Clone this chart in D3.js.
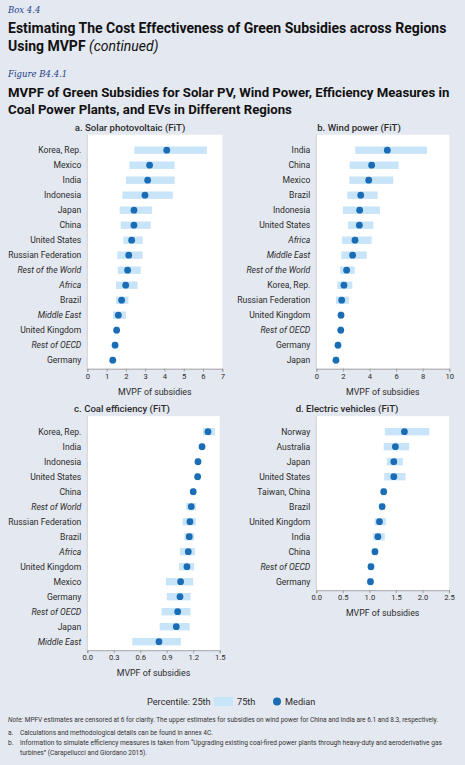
<!DOCTYPE html>
<html>
<head>
<meta charset="utf-8">
<script src="https://cdn.jsdelivr.net/npm/d3@7"></script>
<style>
  body { margin: 0; background: #e4e8f0; }
  svg { display: block; font-family: Roboto, "Noto Sans", sans-serif; }
</style>
</head>
<body>
<svg id="chart" width="465" height="765"></svg>
<script>
// panel a: solar PV
var solarCats = ["Korea, Rep.", "Mexico", "India", "Indonesia", "Japan", "China", "United States",
  "Russian Federation", "Rest of the World", "Africa", "Brazil", "Middle East", "United Kingdom",
  "Rest of OECD", "Germany"];
var solarP25 = [2.44, 2.18, 2.0, 1.82, 1.68, 1.73, 1.87, 1.56, 1.58, 1.49, 1.49, 1.33, 1.45, 1.38, 1.26];
var solarP75 = [6.2, 4.53, 4.53, 4.43, 3.36, 3.29, 2.87, 2.87, 2.77, 2.61, 2.13, 2.0, 1.6, 1.5, 1.38];
var solarMed = [4.12, 3.23, 3.13, 2.99, 2.42, 2.42, 2.30, 2.15, 2.09, 1.99, 1.78, 1.61, 1.52, 1.44, 1.32];

// panel b: wind power
var windCats = ["India", "China", "Mexico", "Brazil", "Indonesia", "United States", "Africa",
  "Middle East", "Rest of the World", "Korea, Rep.", "Russian Federation", "United Kingdom",
  "Rest of OECD", "Germany", "Japan"];
var windP25 = [2.93, 2.51, 2.48, 2.33, 2.0, 2.38, 1.93, 1.88, 1.78, 1.58, 1.48, 1.7, 1.7, 1.5, 1.35];
var windP75 = [8.32, 6.19, 5.79, 4.61, 4.79, 4.29, 4.16, 3.79, 2.89, 2.71, 2.46, 2.0, 2.0, 1.78, 1.6];
var windMed = [5.34, 4.16, 3.94, 3.34, 3.26, 3.24, 2.91, 2.73, 2.28, 2.08, 1.91, 1.86, 1.84, 1.63, 1.48];

// panel c: coal efficiency
var coalCats = ["Korea, Rep.", "India", "Indonesia", "United States", "China", "Rest of World",
  "Russian Federation", "Brazil", "Africa", "United Kingdom", "Mexico", "Germany", "Rest of OECD",
  "Japan", "Middle East"];
var coalP25 = [1.31, 1.28, 1.23, 1.23, 1.18, 1.12, 1.08, 1.10, 1.05, 1.04, 0.89, 0.90, 0.84, 0.82, 0.51];
var coalP75 = [1.445, 1.32, 1.27, 1.27, 1.22, 1.23, 1.23, 1.21, 1.22, 1.21, 1.20, 1.17, 1.17, 1.16, 1.06];
var coalMed = [1.367, 1.30, 1.254, 1.25, 1.20, 1.178, 1.163, 1.155, 1.144, 1.129, 1.057, 1.05, 1.024, 1.008, 0.812];

// panel d: electric vehicles
var evCats = ["Norway", "Australia", "Japan", "United States", "Taiwan, China", "Brazil",
  "United Kingdom", "India", "China", "Rest of OECD", "Germany"];
var evP25 = [1.29, 1.27, 1.33, 1.28, 1.22, 1.19, 1.10, 1.07, 1.06, 0.98, 0.97];
var evP75 = [2.13, 1.75, 1.63, 1.68, 1.32, 1.29, 1.31, 1.29, 1.15, 1.08, 1.07];
var evMed = [1.66, 1.49, 1.46, 1.46, 1.27, 1.24, 1.19, 1.16, 1.105, 1.03, 1.02];

var italicCats = ["Rest of the World", "Rest of World", "Africa", "Middle East", "Rest of OECD"];

var barColor = "#c8e4f8", dotColor = "#1a6db4", textColor = "#2b2b2b";

var svg = d3.select("#chart");

// header
svg.append("text").attr("x", 8).attr("y", 13)
  .style("font-family", "'DejaVu Serif', serif").style("font-style", "italic")
  .style("font-size", "8.5px").style("fill", "#1f3f8a").text("Box 4.4");
var t1 = svg.append("text").attr("x", 8).attr("y", 33)
  .style("font-size", "14px").style("font-weight", "bold").style("fill", "#111");
t1.append("tspan").text("Estimating The Cost Effectiveness of Green Subsidies across Regions");
var t2 = svg.append("text").attr("x", 8).attr("y", 51)
  .style("font-size", "14px").style("fill", "#111");
t2.append("tspan").style("font-weight", "bold").text("Using MVPF ");
t2.append("tspan").style("font-style", "italic").text("(continued)");

svg.append("text").attr("x", 8).attr("y", 77)
  .style("font-family", "'DejaVu Serif', serif").style("font-style", "italic")
  .style("font-size", "8.5px").style("fill", "#1f3f8a").text("Figure B4.4.1");
svg.append("text").attr("x", 8).attr("y", 97)
  .style("font-size", "13.2px").style("font-weight", "bold").style("fill", "#111")
  .text("MVPF of Green Subsidies for Solar PV, Wind Power, Efficiency Measures in");
svg.append("text").attr("x", 8).attr("y", 114)
  .style("font-size", "13.2px").style("font-weight", "bold").style("fill", "#111")
  .text("Coal Power Plants, and EVs in Different Regions");

function panel(o) {
  var x = d3.scaleLinear().domain(o.domain).range([o.left, o.right]);
  var y = d3.scaleBand().domain(o.cats).range([o.top, o.top + o.cats.length * 15]).paddingInner(0);
  var bottom = o.top + o.cats.length * 15 + (o.extra || 0);
  var g = svg.append("g");

  g.append("text").attr("x", o.titleX).attr("y", o.top - 12)
    .attr("text-anchor", "middle").style("font-size", "9.6px").style("font-weight", "500")
    .style("fill", textColor).text(o.title);

  g.append("rect").attr("x", o.left).attr("y", o.top - 8)
    .attr("width", o.right - o.left).attr("height", bottom - o.top + 8)
    .attr("fill", "#fff");

  var rows = o.cats.map(function(c, i) {
    return { cat: c, p25: o.p25[i], p75: o.p75[i], med: o.med[i] };
  });

  g.selectAll("rect.bar").data(rows).enter().append("rect")
    .attr("class", "bar")
    .attr("x", function(d) { return x(d.p25); })
    .attr("y", function(d) { return y(d.cat) + y.bandwidth() / 2 - 3.7; })
    .attr("width", function(d) { return x(d.p75) - x(d.p25); })
    .attr("height", 7.4)
    .attr("fill", barColor);

  g.selectAll("circle").data(rows).enter().append("circle")
    .attr("cx", function(d) { return x(d.med); })
    .attr("cy", function(d) { return y(d.cat) + y.bandwidth() / 2; })
    .attr("r", 3.4)
    .attr("fill", dotColor);

  g.selectAll("text.cat").data(rows).enter().append("text")
    .attr("class", "cat")
    .attr("x", o.left - 6)
    .attr("y", function(d) { return y(d.cat) + y.bandwidth() / 2 + 3; })
    .attr("text-anchor", "end")
    .style("font-size", "8.6px")
    .style("font-style", function(d) { return italicCats.indexOf(d.cat) >= 0 ? "italic" : "normal"; })
    .style("fill", textColor)
    .text(function(d) { return d.cat; });

  g.append("line").attr("x1", o.left).attr("x2", o.left)
    .attr("y1", o.top - 8).attr("y2", bottom)
    .attr("stroke", "#bbb").attr("stroke-width", 0.6);

  var axis = d3.axisBottom(x).tickValues(o.ticks).tickSize(3)
    .tickFormat(o.fmt);
  var ax = g.append("g").attr("transform", "translate(0," + bottom + ")").call(axis);
  ax.select(".domain").attr("stroke", "#888").attr("stroke-width", 0.7);
  ax.selectAll(".tick line").attr("stroke", "#888").attr("stroke-width", 0.7);
  ax.selectAll(".tick text").style("font-size", "7.6px").style("fill", textColor)
    .style("font-family", "Roboto, sans-serif").attr("dy", "0.9em").attr("y", 3);

  g.append("text").attr("x", (o.left + o.right) / 2).attr("y", bottom + 26)
    .attr("text-anchor", "middle").style("font-size", "8.8px").style("fill", textColor)
    .text("MVPF of subsidies");
}

panel({ title: "a.  Solar photovoltaic (FiT)", titleX: 130, cats: solarCats, p25: solarP25, p75: solarP75,
  med: solarMed, domain: [0, 7], ticks: d3.range(0, 8, 1), fmt: d3.format("d"),
  left: 87.3, right: 222.3, top: 142.7, extra: 1 });
panel({ title: "b.  Wind power (FiT)", titleX: 359, cats: windCats, p25: windP25, p75: windP75,
  med: windMed, domain: [0, 10], ticks: d3.range(0, 11, 2), fmt: d3.format("d"),
  left: 316.3, right: 449.3, top: 142.7, extra: 1 });
panel({ title: "c.  Coal efficiency (FiT)", titleX: 122, cats: coalCats, p25: coalP25, p75: coalP75,
  med: coalMed, domain: [0, 1.5], ticks: [0, 0.3, 0.6, 0.9, 1.2, 1.5], fmt: d3.format(".1f"),
  left: 87.3, right: 219.7, top: 424.2, extra: 1 });
panel({ title: "d.  Electric vehicles (FiT)", titleX: 347, cats: evCats, p25: evP25, p75: evP75,
  med: evMed, domain: [0, 2.5], ticks: [0, 0.5, 1, 1.5, 2, 2.5], fmt: d3.format(".1f"),
  left: 316.3, right: 449, top: 424.2, extra: 1 });

// legend
var lg = svg.append("g").style("font-size", "9.2px").style("fill", textColor);
lg.append("text").attr("x", 147).attr("y", 705).text("Percentile:  25th");
lg.append("rect").attr("x", 214).attr("y", 697).attr("width", 19).attr("height", 9).attr("fill", barColor);
lg.append("text").attr("x", 237).attr("y", 705).text("75th");
lg.append("circle").attr("cx", 277).attr("cy", 701.5).attr("r", 4).attr("fill", dotColor);
lg.append("text").attr("x", 285).attr("y", 705).text("Median");

// notes
var nt = svg.append("g").style("font-size", "6.6px").style("fill", "#333");
var n1 = nt.append("text").attr("x", 8).attr("y", 722).attr("textLength", 430).attr("lengthAdjust", "spacingAndGlyphs");
n1.append("tspan").style("font-style", "italic").text("Note: ");
n1.append("tspan").text("MPFV estimates are censored at 6 for clarity. The upper estimates for subsidies on wind power for China and India are 6.1 and 8.3, respectively.");
nt.append("text").attr("x", 8).attr("y", 735).text("a.");
nt.append("text").attr("x", 20).attr("y", 735).attr("textLength", 193).attr("lengthAdjust", "spacingAndGlyphs")
  .text("Calculations and methodological details can be found in annex 4C.");
nt.append("text").attr("x", 8).attr("y", 745).text("b.");
nt.append("text").attr("x", 20).attr("y", 745).attr("textLength", 422).attr("lengthAdjust", "spacingAndGlyphs")
  .text("Information to simulate efficiency measures is taken from \u201cUpgrading existing coal-fired power plants through heavy-duty and aeroderivative gas");
nt.append("text").attr("x", 20).attr("y", 755).attr("textLength", 127).attr("lengthAdjust", "spacingAndGlyphs")
  .text("turbines\u201d (Carapellucci and Giordano 2015).");
</script>
</body>
</html>
